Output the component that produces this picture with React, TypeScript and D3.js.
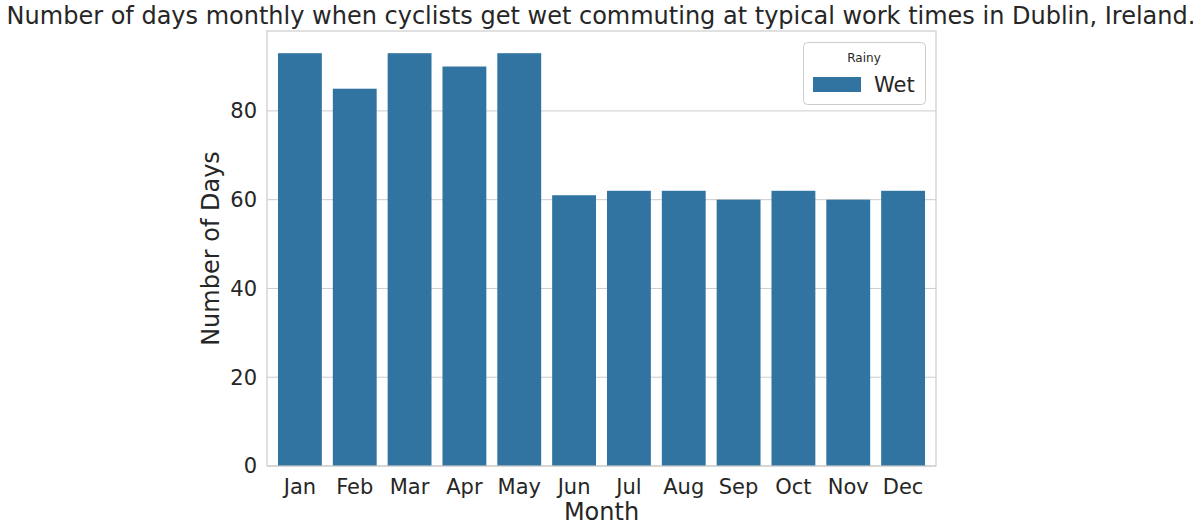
import React from "react";
import * as d3 from "d3";

const months = ["Jan","Feb","Mar","Apr","May","Jun","Jul","Aug","Sep","Oct","Nov","Dec"];
const wetDays = [93,85,93,90,93,61,62,62,60,62,60,62];
const yTicks = [0,20,40,60,80];
const title = "Number of days monthly when cyclists get wet commuting at typical work times in Dublin, Ireland.";

export default function App() {
  const W = 1202, H = 531;
  const L = 267, R = 936, T = 31, B = 466;
  const x = d3.scaleBand<string>().domain(months).range([L, R]).padding(0.2);
  const y = d3.scaleLinear().domain([0, 98]).range([B, T]);
  const font = "DejaVu Sans, sans-serif";
  const c = "#262626";
  return (
    <svg width={W} height={H} style={{ position: "absolute", left: 0, top: 0 }} fontFamily={font}>
      <rect width={W} height={H} fill="#fff" />
      {yTicks.map(t => (
        <g key={t}>
          <line x1={L} x2={R} y1={y(t)} y2={y(t)} stroke="#cccccc" strokeWidth={1} />
          <text x={L - 10} y={y(t)} dy="0.35em" textAnchor="end" fontSize={21} fill={c}>{t}</text>
        </g>
      ))}
      {months.map((m, i) => (
        <rect key={m} x={x(m)} y={y(wetDays[i])} width={x.bandwidth()} height={B - y(wetDays[i])} fill="#3274a1" />
      ))}
      <rect x={L} y={T} width={R - L} height={B - T} fill="none" stroke="#cccccc" strokeWidth={1.2} />
      {months.map(m => (
        <text key={m} x={x(m)! + x.bandwidth() / 2} y={B + 28} textAnchor="middle" fontSize={21} fill={c}>{m}</text>
      ))}
      <text x={(L + R) / 2} y={520} textAnchor="middle" fontSize={24} fill={c}>Month</text>
      <text transform={`translate(219,${(T + B) / 2}) rotate(-90)`} textAnchor="middle" fontSize={24} fill={c}>Number of Days</text>
      <text x={601} y={24} textAnchor="middle" fontSize={24} fill={c}>{title}</text>
      <g>
        <rect x={803.5} y={42.5} width={122} height={62} rx={4} fill="#fff" fillOpacity={0.8} stroke="#cccccc" />
        <text x={864} y={62} textAnchor="middle" fontSize={12} fill={c}>Rainy</text>
        <rect x={813} y={77} width={48} height={15} fill="#3274a1" />
        <text x={874} y={92} fontSize={21} fill={c}>Wet</text>
      </g>
    </svg>
  );
}
